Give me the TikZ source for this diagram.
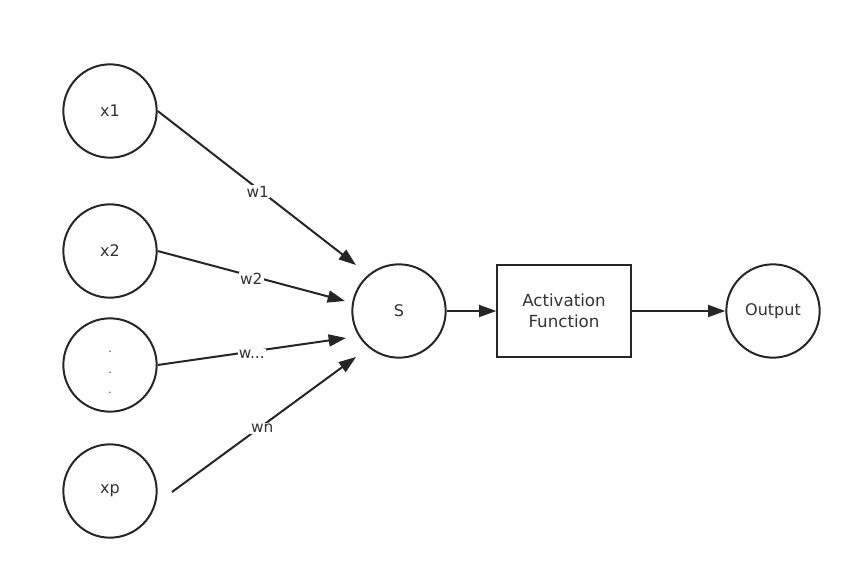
\documentclass[tikz,border=0pt]{standalone}
\usepackage{fontspec}
\setmainfont{DejaVu Sans}
\usetikzlibrary{arrows.meta}
\begin{document}
\begin{tikzpicture}[x=0.75pt,y=-0.75pt,
  neuron/.style={circle, draw=black!85, line width=1.5pt, minimum size=70pt, inner sep=0pt, font=\fontsize{12}{14}\selectfont, text=black!80},
  actbox/.style={rectangle, draw=black!85, line width=1.5pt, minimum width=100pt, minimum height=69pt, align=center, font=\fontsize{12.5}{16}\selectfont, text=black!80},
  conn/.style={draw=black!85, line width=1.5pt, -{Triangle[length=13pt,width=9pt]}},
  wlabel/.style={fill=white, inner sep=1pt, yshift=-2pt, font=\fontsize{11.5}{13}\selectfont, text=black!80}]
\useasboundingbox (0,0) rectangle (864,582);
\fill[white] (0,0) rectangle (864,582);
\node[neuron] (x1) at (110,111) {x1};
\node[neuron] (x2) at (110,251) {x2};
\node[neuron, font=\fontsize{8}{12}\selectfont] (xd) at (110,365) {\raisebox{-7.5pt}[0pt][0pt]{\parbox{5pt}{\centering .\\[3.5pt].\\[3.5pt].}}};
\node[neuron] (xp) at (110,491) {xp};
\node[neuron] (s) at (399,311) {S};
\node[actbox] (act) at (564,311) {Activation\\Function};
\node[neuron] (out) at (773,311) {Output};
\coordinate (t1) at (356,265);
\coordinate (t2) at (345,301);
\coordinate (t3) at (346,338);
\coordinate (t4) at (356,357);
\coordinate (xps) at (172,492);
\draw[conn] (x1.east) -- node[wlabel, pos=0.505] {w1} (t1);
\draw[conn] (x2.east) -- node[wlabel, pos=0.5] {w2} (t2);
\draw[conn] (xd.east) -- node[wlabel, pos=0.5] {w...} (t3);
\draw[conn] (xps) -- node[wlabel, pos=0.49] {wn} (t4);
\draw[conn] (s) -- (act);
\draw[conn] (act) -- (out);
\end{tikzpicture}
\end{document}
